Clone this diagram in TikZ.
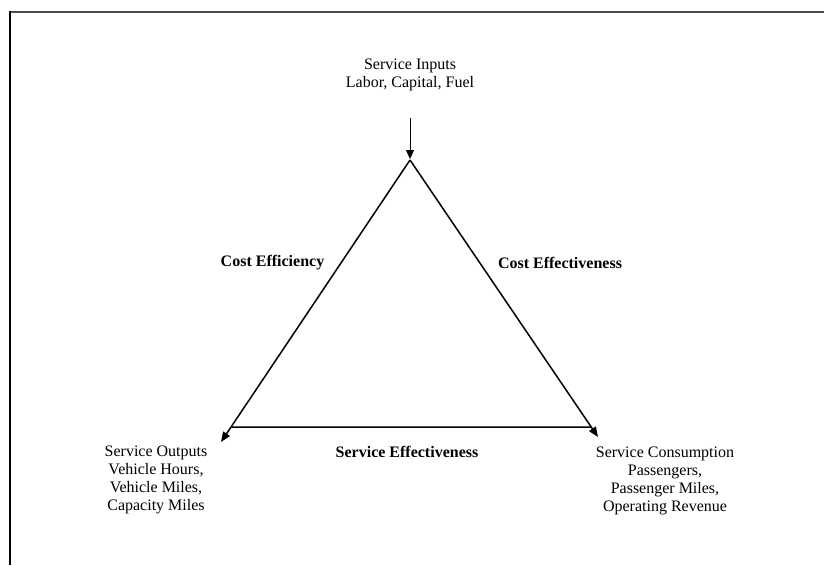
\documentclass[tikz,border=0pt]{standalone}
\usepackage{fontspec}
\setmainfont{Liberation Serif}
\usetikzlibrary{calc,arrows.meta}
\begin{document}
\begin{tikzpicture}[x=1pt,y=-1pt,
  label text/.style={align=center,inner sep=0pt,font=\fontsize{16}{18}\selectfont},
  edge text/.style={inner sep=0pt,font=\fontsize{16}{18}\selectfont\bfseries},
  side/.style={line width=1.5pt,black},
  flow/.style={side,-{Triangle[length=10pt,width=8pt]}},
  frame/.style={line width=2pt}]
  \useasboundingbox (0,0) rectangle (824,565);
  % page frame (top and left edges only)
  \draw[frame,gray!60!black] (10,11.5) -- (824,11.5);
  \draw[frame,black] (10,11) -- (10,565);

  % corners and arrow tips
  \coordinate (apex) at (410,160);
  \coordinate (ltip) at (221,442);
  \coordinate (rtip) at (598,437);
  \coordinate (lfoot) at ($(apex)!0.9468!(ltip)$);
  \coordinate (rfoot) at ($(apex)!0.9639!(rtip)$);

  % labels
  \node[label text] (inputs) at (410,75) {Service Inputs\\Labor, Capital, Fuel};
  \node[label text] (outputs) at (156,479.5) {Service Outputs\\Vehicle Hours,\\Vehicle Miles,\\Capacity Miles};
  \node[label text] (consumption) at (665,481) {Service Consumption\\Passengers,\\Passenger Miles,\\Operating Revenue};
  \node[edge text] (efficiency) at (272.5,263) {Cost Efficiency};
  \node[edge text] (effectiveness) at (560,263) {Cost Effectiveness};
  \node[edge text] (serviceeff) at (407,452) {Service Effectiveness};

  % connectors
  \coordinate (intop) at (410,118);
  \draw[flow,line width=0.8pt,-{Triangle[length=9pt,width=8pt]}] (intop) -- ($(apex)+(0,-1)$);
  \draw[flow] (apex) -- (ltip);
  \draw[flow] (apex) -- (rtip);
  \draw[side] (lfoot) -- (rfoot);
\end{tikzpicture}
\end{document}
